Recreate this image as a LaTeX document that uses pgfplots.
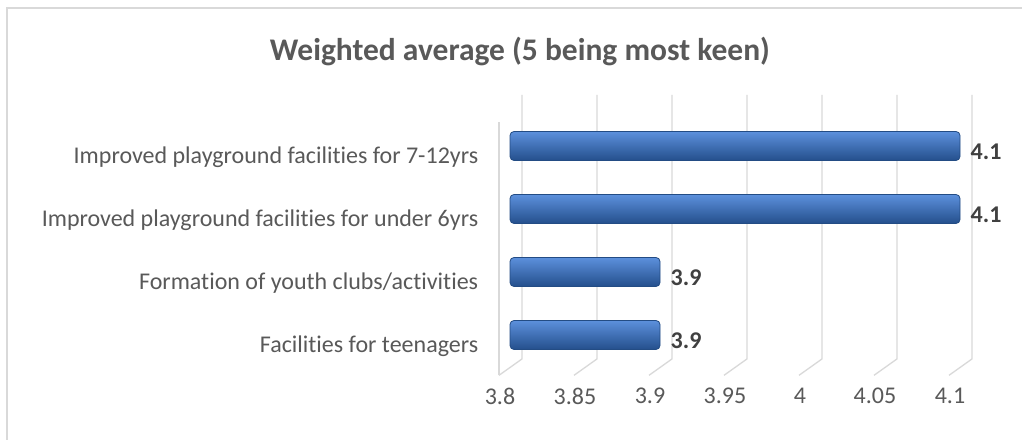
\documentclass[border=0pt]{standalone}
\usepackage{pgfplots}
\pgfplotsset{compat=1.18}
\usepackage{fontspec}
\setmainfont{Carlito}[Ligatures=NoCommon]
\definecolor{txt}{HTML}{595959}
\definecolor{lbl}{HTML}{404040}
\definecolor{gridc}{HTML}{D9D9D9}
\definecolor{barTop}{HTML}{5C90DC}
\definecolor{barMid}{HTML}{3C74C8}
\definecolor{barBot}{HTML}{244F8C}
\definecolor{barEdge}{HTML}{234C84}
\begin{document}
\begin{tikzpicture}[x=1pt,y=1pt]
\useasboundingbox (0,0) rectangle (1022,439);
\fill[white] (0,0) rectangle (1022,439);
\draw[gridc, line width=1.5pt] (7,-5) -- (7,431) -- (1030,431);
\node[font=\bfseries\fontsize{31.5}{36}\selectfont, text=txt, anchor=base] at (520,378) {Weighted average (5 being most keen)};
\begin{axis}[
  at={(510pt,59.9pt)}, anchor=south west,
  scale only axis, width=450pt, height=286.65pt,
  xmin=3.8, xmax=4.1, ymin=-0.7, ymax=3.85,
  xbar, bar width=29pt, bar shift=0pt,
  axis line style={draw=none}, tick style={draw=none},
  xtick={3.8,3.85,3.9,3.95,4,4.05,4.1},
  xticklabels={3.8,3.85,3.9,3.95,4,4.05,4.1},
  ytick={0,1,2,3},
  yticklabels={Facilities for teenagers,Formation of youth clubs/activities,Improved playground facilities for under 6yrs,Improved playground facilities for 7-12yrs},
  tick label style={font=\fontsize{24}{28}\selectfont, text=txt},
  xticklabel style={xshift=-10pt, yshift=-5pt},
  yticklabel style={xshift=-24pt, yshift=-11pt},
  clip=false,
  point meta=explicit symbolic,
  nodes near coords,
  nodes near coords style={anchor=west, font=\bfseries\fontsize{24}{28}\selectfont, text=lbl, xshift=7pt, yshift=-6pt},
  barstyle/.style={draw=barEdge, line width=0.8pt, top color=barTop, middle color=barMid, bottom color=barBot, rounded corners=4pt},
]
\pgfplotsinvokeforeach{3.8,3.85,3.9,3.95,4,4.05,4.1}{
  \draw[gridc, line width=1.3pt] ([xshift=12pt]axis cs:#1,3.81) -- ([xshift=12pt]axis cs:#1,-0.38) -- ([xshift=-11pt]axis cs:#1,-0.64);
}
\draw[gridc, line width=1.3pt] ([xshift=-11pt]axis cs:3.8,-0.64) -- ([xshift=-11pt]axis cs:3.8,3.38);
\addplot[barstyle] coordinates {(3.9,0) [3.9]};
\addplot[barstyle] coordinates {(3.9,1) [3.9]};
\addplot[barstyle] coordinates {(4.1,2) [4.1]};
\addplot[barstyle] coordinates {(4.1,3) [4.1]};
\end{axis}
\end{tikzpicture}
\end{document}
